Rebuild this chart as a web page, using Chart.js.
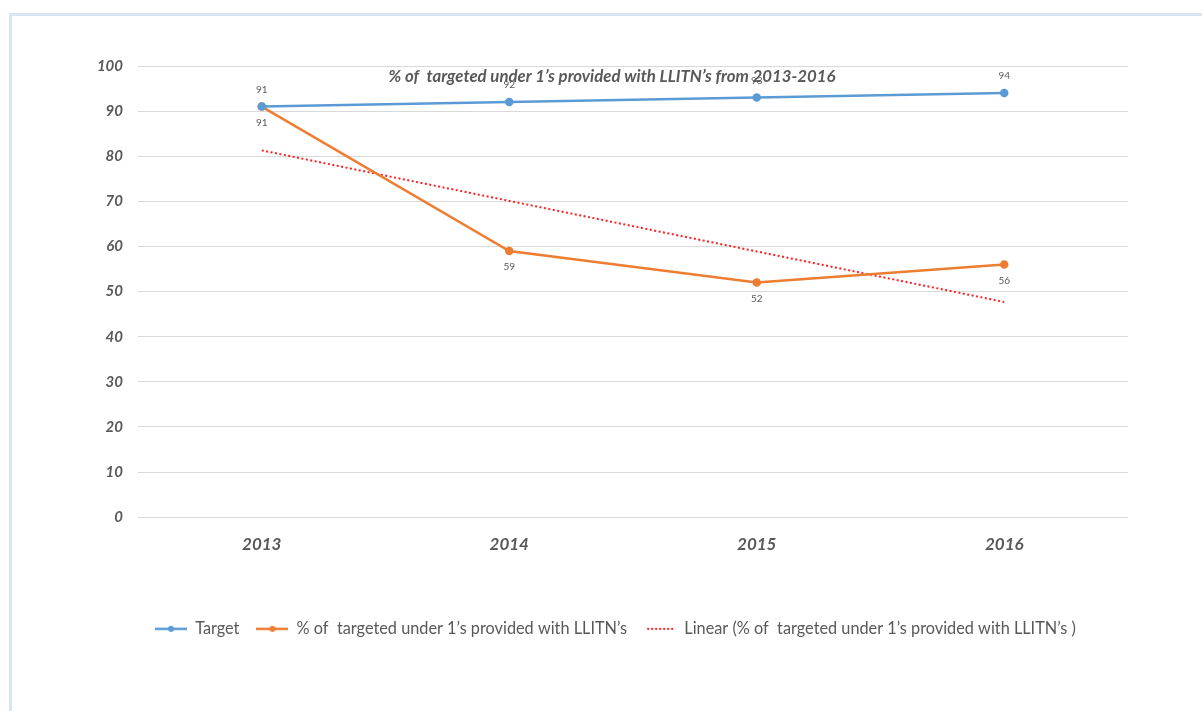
<!DOCTYPE html>
<html>
<head>
<meta charset="utf-8">
<script src="https://cdn.jsdelivr.net/npm/chart.js@4/dist/chart.umd.min.js"></script>
<style>
  html, body { margin: 0; padding: 0; background: #fff; overflow: hidden; }
  #frame {
    position: absolute; left: 9px; top: 13px; width: 1400px; height: 900px;
    border: 3px solid #dae4f3; box-sizing: border-box;
  }
  #wrap { position: absolute; left: 0; top: 0; width: 1202px; height: 711px; }
</style>
</head>
<body>
<div id="frame"></div>
<div id="wrap"><canvas id="llitn" width="1202" height="711"></canvas></div>
<script>
'use strict';

/* ── data ── */
const years      = ['2013', '2014', '2015', '2016'];
const targetVals = [91, 92, 93, 94];
const llitnVals  = [91, 59, 52, 56];
const trendVals  = [81.3, 70.1, 58.9, 47.7];
const yTicks     = [0, 10, 20, 30, 40, 50, 60, 70, 80, 90, 100];

const TITLE   = '% of  targeted under 1\u2019s provided with LLITN\u2019s from 2013-2016';
const NAME_T  = 'Target';
const NAME_L  = '% of  targeted under 1\u2019s provided with LLITN\u2019s';
const NAME_TR = 'Linear (% of  targeted under 1\u2019s provided with LLITN\u2019s )';

const BLUE   = '#5b9bd5';
const ORANGE = '#ed7d31';
const RED    = '#ff1f1f';
const GREY   = '#595959';
const FONT   = 'Lato, "Open Sans", sans-serif';

/* legend markers: short line with a dot, dotted line for the trend */
function lineMarker(color, dotted) {
  const c = document.createElement('canvas');
  c.width = 32; c.height = 8;
  const g = c.getContext('2d');
  g.strokeStyle = color;
  g.lineWidth = 2.5;
  if (dotted) { g.setLineDash([2, 2]); g.lineWidth = 2; }
  g.beginPath();
  g.moveTo(dotted ? 3 : 0, 4); g.lineTo(dotted ? 29 : 32, 4);
  g.stroke();
  if (!dotted) {
    g.fillStyle = color;
    g.beginPath(); g.arc(16, 4, 3, 0, Math.PI * 2); g.fill();
  }
  return c;
}

/* value labels above the target line, below the coverage line */
const valueLabels = {
  id: 'valueLabels',
  afterDatasetsDraw(chart) {
    const ctx = chart.ctx;
    ctx.save();
    ctx.font = '10px ' + FONT;
    ctx.fillStyle = GREY;
    ctx.textAlign = 'center';
    ctx.textBaseline = 'middle';
    [[0, -17], [1, 16]].forEach(([di, dy]) => {
      const meta = chart.getDatasetMeta(di);
      const vals = chart.data.datasets[di].data;
      meta.data.forEach((pt, i) => ctx.fillText(String(vals[i]), pt.x, pt.y + dy));
    });
    ctx.restore();
  }
};

/* title sits inside the plot, over the top gridline */
const innerTitle = {
  id: 'innerTitle',
  afterDraw(chart) {
    const ctx = chart.ctx;
    ctx.save();
    ctx.font = 'italic bold 16.8px ' + FONT;
    ctx.fillStyle = GREY;
    ctx.textAlign = 'center';
    ctx.textBaseline = 'middle';
    ctx.fillText(TITLE, 612, chart.chartArea.top + 11);
    ctx.restore();
  }
};

new Chart(document.getElementById('llitn'), {
  type: 'line',
  data: {
    labels: years,
    datasets: [
      {
        label: NAME_T, data: targetVals,
        borderColor: BLUE, backgroundColor: BLUE,
        borderWidth: 2.5, pointRadius: 3, pointHoverRadius: 3, tension: 0
      },
      {
        label: NAME_L, data: llitnVals,
        borderColor: ORANGE, backgroundColor: ORANGE,
        borderWidth: 2.5, pointRadius: 3, pointHoverRadius: 3, tension: 0
      },
      {
        label: NAME_TR, data: trendVals,
        borderColor: RED, backgroundColor: RED,
        borderWidth: 2, borderDash: [2, 2.5], pointRadius: 0, tension: 0
      }
    ]
  },
  options: {
    responsive: false,
    animation: false,
    events: [],
    layout: { padding: { left: 62, right: 74, top: 66, bottom: 64 } },
    scales: {
      x: {
        offset: true,
        grid: { display: false },
        border: { display: false },
        ticks: { color: GREY, padding: 9, font: { family: FONT, size: 17, style: 'italic', weight: 'bold' } },
        afterFit(s) { s.height = 86.5; }
      },
      y: {
        min: 0, max: 100,
        afterBuildTicks(s) { s.ticks = yTicks.map(v => ({ value: v })); },
        grid: { color: '#d9d9d9', lineWidth: 1, drawTicks: false },
        border: { display: false },
        ticks: { color: GREY, padding: 15, font: { family: FONT, size: 15, style: 'italic', weight: 'bold' } },
        afterFit(s) { s.width = 76; }
      }
    },
    plugins: {
      title: { display: false },
      tooltip: { enabled: false },
      legend: {
        position: 'bottom',
        fullSize: false,
        align: 'start',
        labels: {
          color: GREY,
          font: { family: FONT, size: 16.3 },
          padding: 17,
          usePointStyle: true,
          pointStyleWidth: 32,
          generateLabels(chart) {
            const marks = [lineMarker(BLUE, false), lineMarker(ORANGE, false), lineMarker(RED, true)];
            return chart.data.datasets.map((d, i) => ({
              text: d.label, datasetIndex: i, pointStyle: marks[i],
              fontColor: GREY, strokeStyle: d.borderColor, fillStyle: d.borderColor,
              lineWidth: 0, hidden: false
            }));
          }
        }
      }
    }
  },
  plugins: [valueLabels, innerTitle]
});
</script>
</body>
</html>
